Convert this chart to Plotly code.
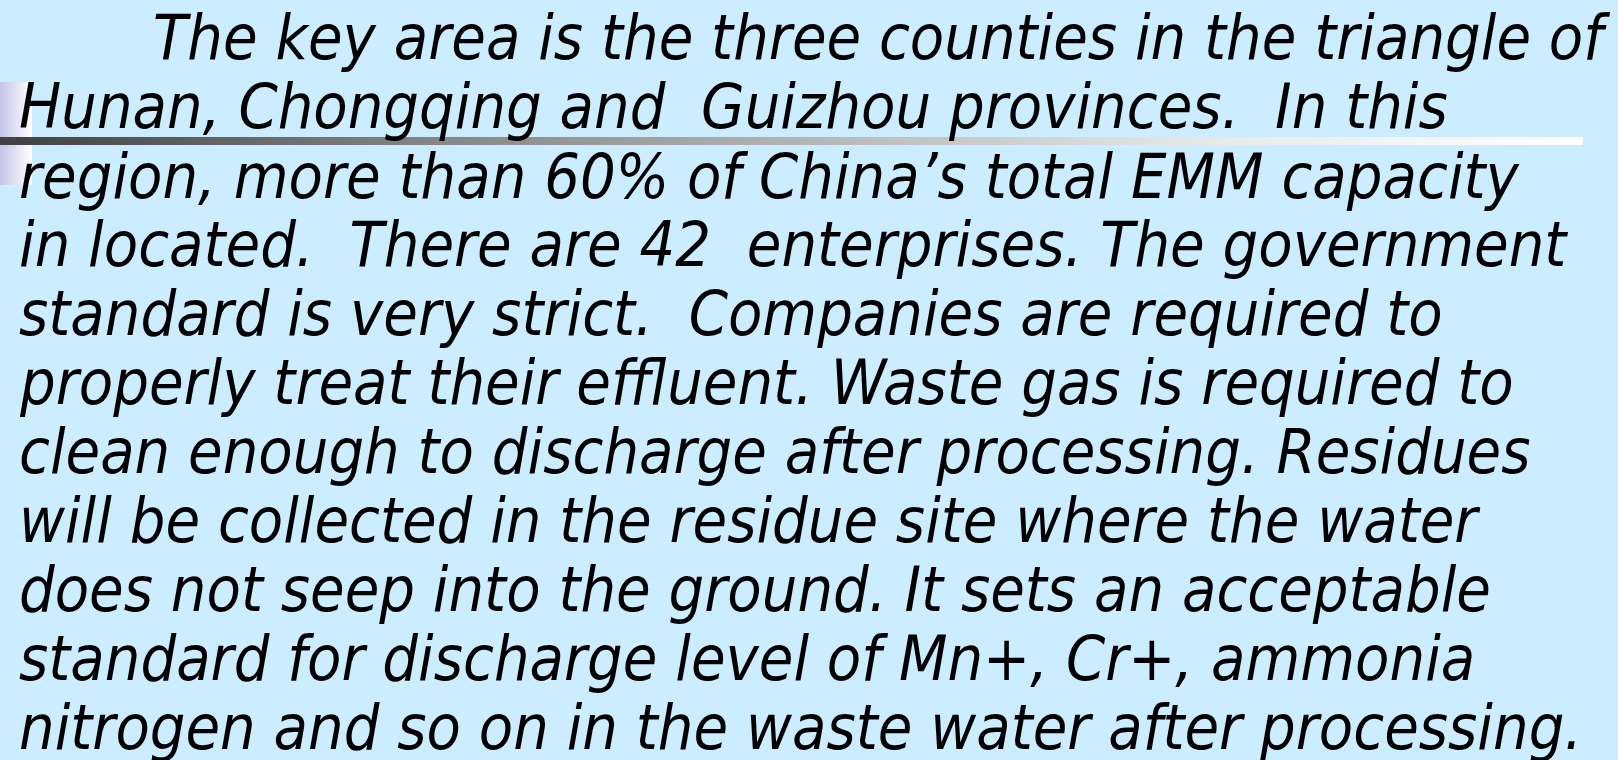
import plotly.graph_objects as go

W, H = 1618, 760
BG = "#CCECFF"

lines = [
    "The key area is the three counties in the triangle of",
    "Hunan, Chongqing and \u00a0Guizhou provinces. \u00a0In this",
    "region, more than 60% of China\u2019s total EMM capacity",
    "in located. \u00a0There are 42 \u00a0enterprises. The government",
    "standard is very strict. \u00a0Companies are required to",
    "properly treat their effluent. Waste gas is required to",
    "clean enough to discharge after processing. Residues",
    "will be collected in the residue site where the water",
    "does not seep into the ground. It sets an acceptable",
    "standard for discharge level of Mn+, Cr+, ammonia",
    "nitrogen and so on in the waste water after processing.",
]
line_x = [151, 17, 17, 17, 17, 17, 17, 17, 17, 17, 17]
baselines = [58, 127, 197, 265, 334, 403, 472, 541, 610, 679, 748]

FONT = "DejaVu Sans Condensed, DejaVu Sans, sans-serif"
FS = 62.5

fig = go.Figure()

# gradient rule line
bar_x = [0, 1583, 1583, 0, 0]
bar_y = [137, 137, 145, 145, 137]
fig.add_trace(go.Scatter(
    x=bar_x, y=bar_y, fill="toself", mode="none", hoverinfo="skip",
    fillgradient=dict(type="horizontal", start=0, stop=1583,
                      colorscale=[[0, "#404040"], [0.25, "#808080"],
                                  [0.76, "#e8e8e8"], [1, "#ffffff"]]),
    showlegend=False,
))
# left lavender blocks
for y0, y1 in [(82, 137), (145, 185)]:
    fig.add_trace(go.Scatter(
        x=[0, 32, 32, 0, 0], y=[y0, y0, y1, y1, y0], fill="toself", mode="none",
        hoverinfo="skip",
        fillgradient=dict(type="horizontal", start=0, stop=32,
                          colorscale=[[0, "#c4c4e6"], [1, "#ffffff"]]),
        showlegend=False,
    ))

for t, x, b in zip(lines, line_x, baselines):
    fig.add_annotation(
        x=x, y=b - 21, xref="x", yref="y", text=t, showarrow=False,
        xanchor="left", yanchor="middle",
        font=dict(family=FONT, size=FS, color="#000000", style="italic"),
    )

fig.update_layout(
    width=W, height=H, margin=dict(l=0, r=0, t=0, b=0),
    paper_bgcolor=BG, plot_bgcolor=BG,
    xaxis=dict(range=[0, W], visible=False, fixedrange=True),
    yaxis=dict(range=[H, 0], visible=False, fixedrange=True),
    showlegend=False,
)
fig.write_html(
    "out.html",
    config={"displayModeBar": False},
    post_script="document.body.style.margin='0';document.body.style.overflow='hidden';"
                "document.body.style.background='" + BG + "';",
)
